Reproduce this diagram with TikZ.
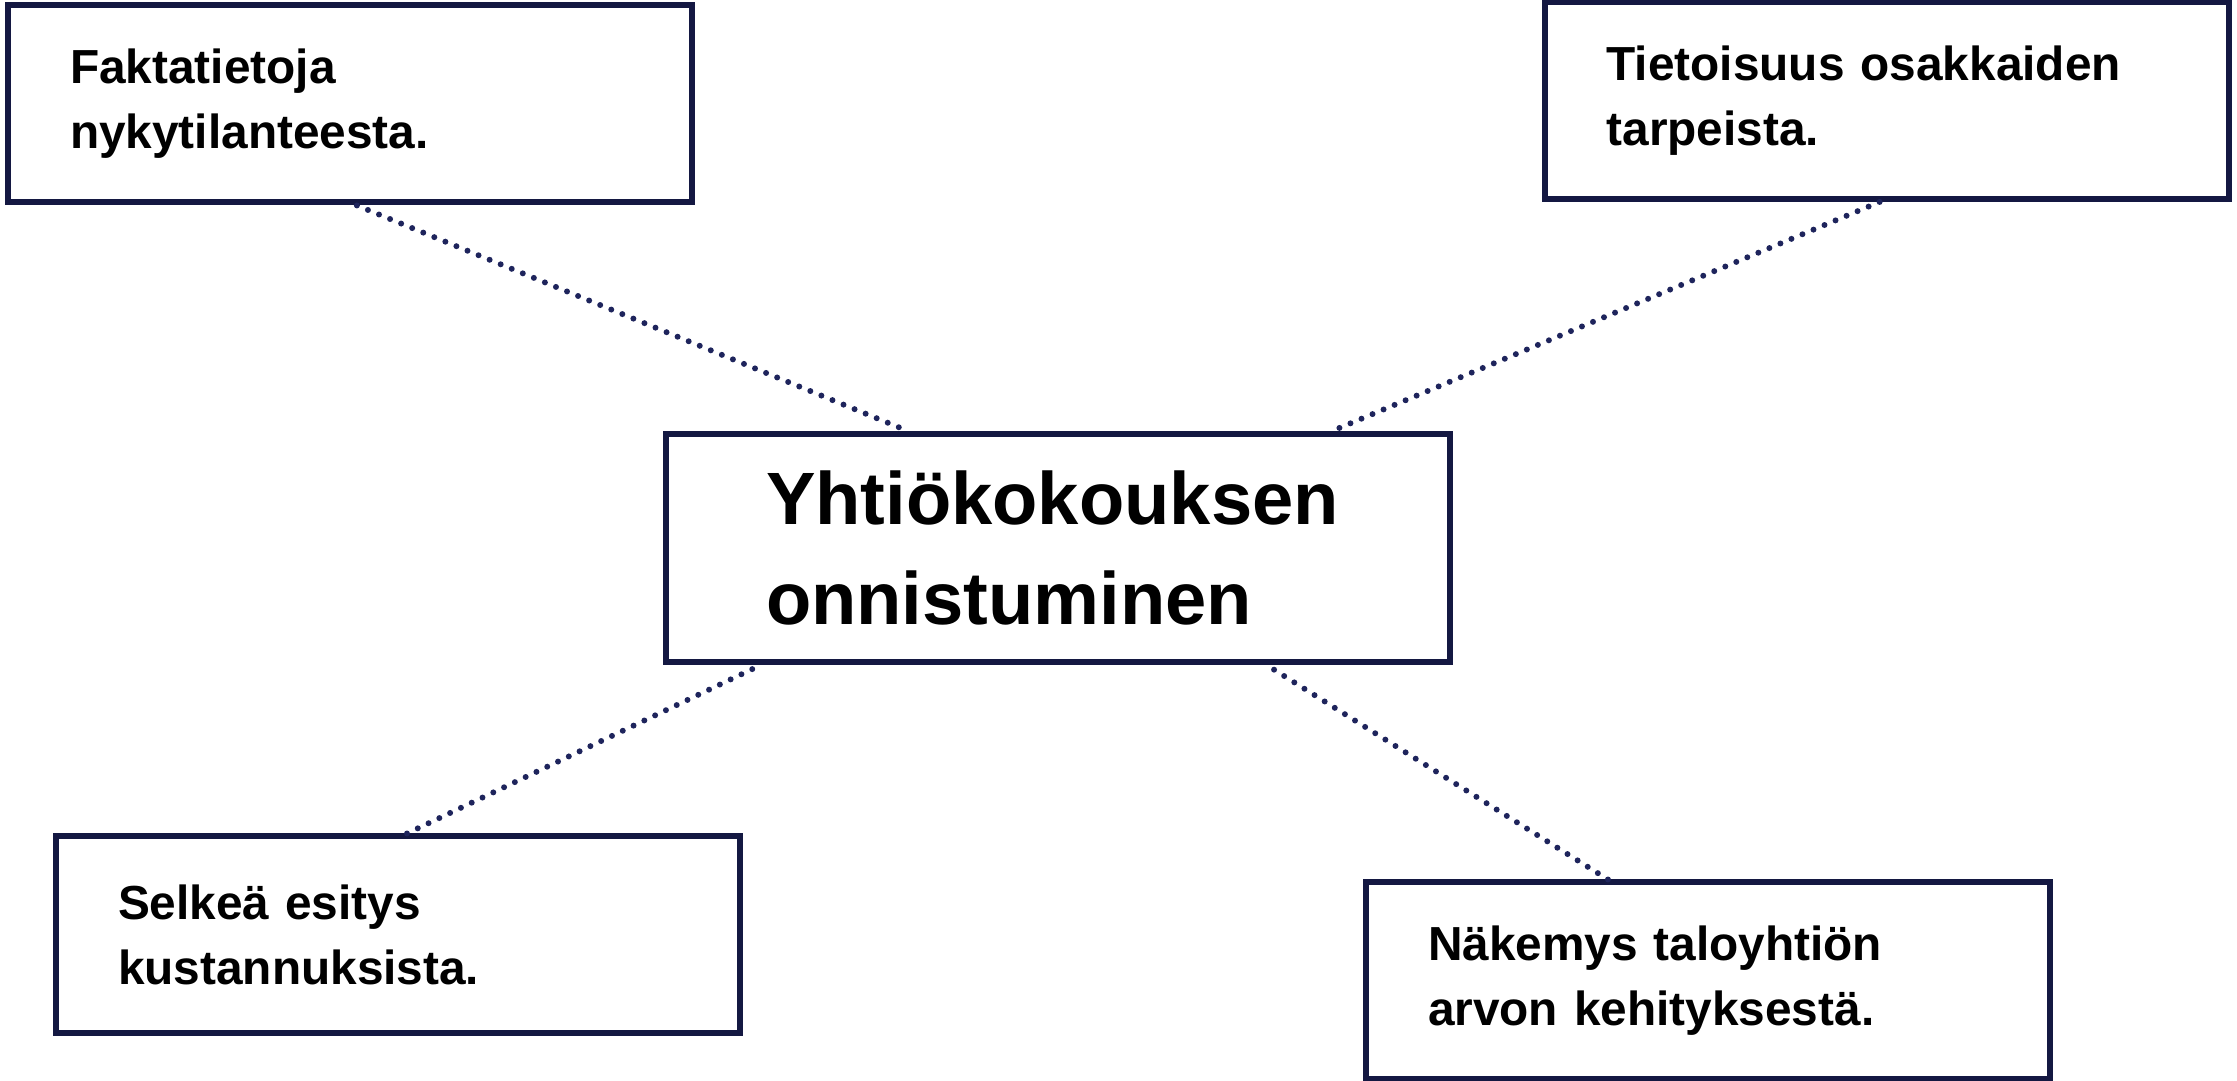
\documentclass[tikz,border=0pt]{standalone}
\usepackage{fontspec}
\setmainfont{Liberation Sans}
\usetikzlibrary{calc}
\definecolor{navy}{RGB}{20,24,66}
\definecolor{dotnavy}{RGB}{30,36,92}

\begin{document}
\begin{tikzpicture}[
  b/.style={draw=navy,line width=1.7pt,rectangle,align=left,inner xsep=0.62cm,
    text width=5.6cm,minimum width=6.83cm,minimum height=1.97cm,
    font=\fontsize{13.6}{18.5}\selectfont\bfseries},
  bc/.style={b,inner xsep=1cm,text width=5.84cm,minimum width=7.84cm,minimum height=2.28cm,
    font=\fontsize{21.1}{28.4}\selectfont\bfseries},
  con/.style={dotnavy,line width=1.7pt,line cap=round,dash pattern=on 0pt off 3.4pt}]
\useasboundingbox (0,0) rectangle (22.37,10.81);
\node[bc] (main) at (10.58,5.33) {Yhtiökokouksen\\onnistuminen};
\node[b] (fakta) at (3.50,9.77) {Faktatietoja\\nykytilanteesta.};
\node[b] (tieto) at (18.865,9.805) {Tietoisuus osakkaiden\\tarpeista.};
\node[b] (selkea) at (3.98,1.46) {Selkeä esitys\\kustannuksista.};
\node[b] (nakemys) at (17.08,1.00) {Näkemys taloyhtiön\\arvon kehityksestä.};
% katkoviivat
\draw[con] ($(fakta.south west)!0.51!(fakta.south east)$) -- ($(main.north west)!0.31!(main.north east)$);
\draw[con] ($(tieto.south west)!0.49!(tieto.south east)$) -- ($(main.north west)!0.847!(main.north east)$);
\draw[con] ($(selkea.north west)!0.513!(selkea.north east)$) -- ($(main.south west)!0.124!(main.south east)$);
\draw[con] ($(nakemys.north west)!0.355!(nakemys.north east)$) -- ($(main.south west)!0.764!(main.south east)$);
\end{tikzpicture}
\end{document}
